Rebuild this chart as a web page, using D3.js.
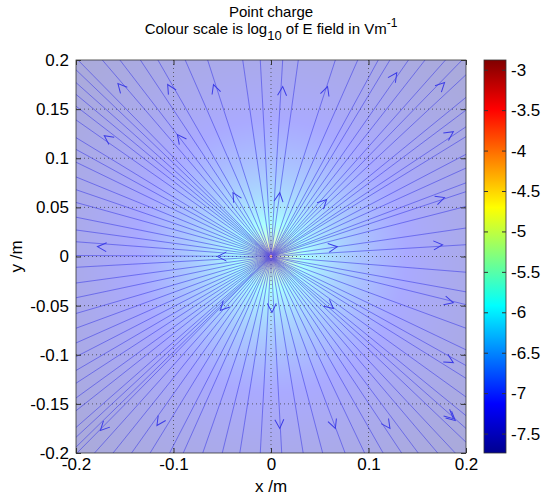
<!DOCTYPE html>
<html>
<head>
<meta charset="utf-8">
<script src="https://cdn.jsdelivr.net/npm/d3@7"></script>
<style>
  body { margin: 0; background: #fff; }
  text { font-family: "Liberation Sans", Arial, sans-serif; }
</style>
</head>
<body>
<div id="chart"></div>
<script>
// point charge (elementary charge) and field constant
const chargeQ = 1.602e-19
const coulombK = 8.99e9

// colour axis limits (log10 of E)
const cLimits = [-7.74, -2.88]

// tick values
const xTicks = [-0.2, -0.1, 0, 0.1, 0.2]
const yTicks = [-0.2, -0.15, -0.1, -0.05, 0, 0.05, 0.1, 0.15, 0.2]
const cTicks = [-3, -3.5, -4, -4.5, -5, -5.5, -6, -6.5, -7, -7.5]

// where the field lines leave the box
const topX = [-0.198, -0.173, -0.155, -0.134, -0.116, -0.088, -0.065, -0.029, -0.011, 0.012, 0.028, 0.066, 0.089, 0.110, 0.122, 0.141, 0.158, 0.179, 0.196]
const bottomX = [-0.199, -0.181, -0.162, -0.143, -0.124, -0.104, -0.090, -0.070, -0.050, -0.032, -0.011, 0.011, 0.033, 0.053, 0.076, 0.096, 0.115, 0.134, 0.151, 0.171, 0.189]
const leftY = [0.19, 0.177, 0.165, 0.153, 0.139, 0.121, 0.109, 0.096, 0.081, 0.068, 0.055, 0.040, 0.027, 0.015, 0.001, -0.011, -0.027, -0.042, -0.058, -0.073, -0.088, -0.102, -0.116, -0.129, -0.144, -0.157, -0.174, -0.184, -0.194]
const rightY = [0.185, 0.162, 0.149, 0.132, 0.122, 0.104, 0.090, 0.075, 0.066, 0.051, 0.029, 0.012, -0.016, -0.036, -0.049, -0.073, -0.095, -0.111, -0.124, -0.143, -0.162, -0.175, -0.189]

// arrow heads on the field lines
const arrowX = [-0.157, -0.106, -0.059, 0.012, 0.058, 0.129, 0.178, -0.171, -0.096, 0.187, -0.039, 0.009, 0.057, -0.178, -0.055, 0.068, 0.178, 0.176, 0.187, -0.052, 0.001, 0.064, 0.187, 0.187, -0.175, -0.117, 0.009, 0.066, 0.122, 0.189]
const arrowY = [0.176, 0.175, 0.175, 0.173, 0.173, 0.187, 0.177, 0.123, 0.124, 0.127, 0.065, 0.065, 0.058, 0.010, 0.000, 0.010, 0.060, 0.012, -0.047, -0.055, -0.057, -0.053, -0.108, -0.165, -0.177, -0.172, -0.175, -0.175, -0.175, -0.167]

let margin = { top: 60, left: 76 }
let width = 390
let height = 393
const fontFam = "'Liberation Sans', Arial, sans-serif"

const svg = d3.select("#chart")
    .append("svg")
    .attr("width", 550)
    .attr("height", 495)

const g = svg.append("g")
    .attr("transform", "translate(" + margin.left + "," + margin.top + ")")

let x = d3.scaleLinear().domain([-0.2, 0.2]).range([0, width])
let y = d3.scaleLinear().domain([-0.2, 0.2]).range([height, 0])

// jet colormap
const jet = d3.scaleLinear()
    .domain([0, 0.125, 0.375, 0.625, 0.875, 1])
    .range(["#00008f", "#0000ff", "#00ffff", "#ffff00", "#ff0000", "#800000"])
    .clamp(true)
let c = d3.scaleLinear().domain(cLimits).range([0, 1]).clamp(true)

const logE = (px, py) => {
    let r2 = Math.max(px * px + py * py, 2e-6)
    return Math.log10(coulombK * chargeQ / r2)
}

// field magnitude image
const canvas = document.createElement("canvas")
canvas.width = width
canvas.height = height
const ctx = canvas.getContext("2d")
const img = ctx.createImageData(width, height)
for (let j = 0; j < height; j++) {
    for (let i = 0; i < width; i++) {
        let col = d3.rgb(jet(c(logE(x.invert(i + 0.5), y.invert(j + 0.5)))))
        let k = (j * width + i) * 4
        img.data[k] = col.r
        img.data[k + 1] = col.g
        img.data[k + 2] = col.b
        img.data[k + 3] = 255
    }
}
ctx.putImageData(img, 0, 0)

g.append("image")
    .attr("width", width)
    .attr("height", height)
    .attr("preserveAspectRatio", "none")
    .attr("opacity", 0.33)
    .attr("href", canvas.toDataURL())

// grid
g.selectAll(".gx").data(xTicks.slice(1, -1)).enter().append("line")
    .attr("x1", d => x(d)).attr("x2", d => x(d))
    .attr("y1", 0).attr("y2", height)
    .attr("stroke", "#444").attr("stroke-width", 0.8).attr("stroke-dasharray", "1,3")
g.selectAll(".gy").data(yTicks.slice(1, -1)).enter().append("line")
    .attr("y1", d => y(d)).attr("y2", d => y(d))
    .attr("x1", 0).attr("x2", width)
    .attr("stroke", "#444").attr("stroke-width", 0.8).attr("stroke-dasharray", "1,3")

// field lines
const ends = [].concat(
    topX.map(v => [v, 0.2]),
    bottomX.map(v => [v, -0.2]),
    leftY.map(v => [-0.2, v]),
    rightY.map(v => [0.2, v])
)
const lineCol = "#3c3ce6"
g.append("g").attr("opacity", 0.8).selectAll("line").data(ends).enter().append("line")
    .attr("x1", d => x(0.002 * d[0] / Math.hypot(d[0], d[1])))
    .attr("y1", d => y(0.002 * d[1] / Math.hypot(d[0], d[1])))
    .attr("x2", d => x(d[0])).attr("y2", d => y(d[1]))
    .attr("stroke", lineCol).attr("stroke-width", 0.7)

// arrows, pointing away from the charge
const arrows = arrowX.map((v, i) => [v, arrowY[i]])
g.append("g").selectAll("path").data(arrows).enter().append("path")
    .attr("transform", d => {
        let ang = Math.atan2(y(d[1]) - y(0), x(d[0]) - x(0)) * 180 / Math.PI
        return "translate(" + x(d[0]) + "," + y(d[1]) + ") rotate(" + ang + ")"
    })
    .attr("d", "M-9,-4.5L0,0L-9,4.5")
    .attr("fill", "none")
    .attr("stroke", lineCol)
    .attr("stroke-width", 1)

// box
g.append("rect")
    .attr("width", width).attr("height", height)
    .attr("fill", "none").attr("stroke", "#333").attr("stroke-width", 0.8)

// axes
const fmt = d => d3.format("")(d).replace("−", "-")
const xAxis = g.append("g")
    .attr("transform", "translate(0," + height + ")")
    .call(d3.axisBottom(x).tickValues(xTicks).tickSize(-5).tickPadding(5).tickFormat(fmt))
const yAxis = g.append("g")
    .call(d3.axisLeft(y).tickValues(yTicks).tickSize(-5).tickPadding(7).tickFormat(fmt))
;[xAxis, yAxis].forEach(a => {
    a.select(".domain").remove()
    a.selectAll("line").attr("stroke", "#333")
    a.selectAll("text").attr("font-size", 17).attr("fill", "#000").style("font-family", fontFam)
})
g.append("g").attr("transform", "translate(" + width + ",0)")
    .call(d3.axisRight(y).tickValues(yTicks).tickSize(-5).tickFormat(""))
    .call(a => { a.select(".domain").remove(); a.selectAll("line").attr("stroke", "#333") })
g.append("g")
    .call(d3.axisTop(x).tickValues(xTicks).tickSize(-5).tickFormat(""))
    .call(a => { a.select(".domain").remove(); a.selectAll("line").attr("stroke", "#333") })

// labels
svg.append("text").attr("x", margin.left + width / 2).attr("y", 492)
    .attr("text-anchor", "middle").attr("font-size", 17).text("x /m")
svg.append("text")
    .attr("transform", "translate(22," + (margin.top + height / 2) + ") rotate(-90)")
    .attr("text-anchor", "middle").attr("font-size", 17).text("y /m")

const title = svg.append("text").attr("text-anchor", "middle").attr("font-size", 15)
title.append("tspan").attr("x", margin.left + width / 2).attr("y", 17).text("Point charge")
const t2 = svg.append("text").attr("text-anchor", "middle").attr("font-size", 15)
    .attr("x", margin.left + width / 2).attr("y", 34)
t2.append("tspan").text("Colour scale is log")
t2.append("tspan").attr("dy", 6).attr("font-size", 13).text("10")
t2.append("tspan").attr("dy", -6).text(" of E field in Vm")
t2.append("tspan").attr("dy", -7).attr("font-size", 12).text("-1")

// colour bar
const cb = svg.append("g").attr("transform", "translate(484," + margin.top + ")")
const cbW = 22
let cy = d3.scaleLinear().domain(cLimits).range([height, 0])
const grad = svg.append("defs").append("linearGradient")
    .attr("id", "jetgrad").attr("x1", 0).attr("y1", 1).attr("x2", 0).attr("y2", 0)
grad.selectAll("stop").data(d3.range(0, 1.0001, 0.025)).enter().append("stop")
    .attr("offset", d => d).attr("stop-color", d => jet(d))
cb.append("rect").attr("width", cbW).attr("height", height).attr("fill", "url(#jetgrad)")
cb.append("g").call(d3.axisLeft(cy).tickValues(cTicks).tickSize(-4).tickFormat(""))
    .call(a => { a.select(".domain").remove(); a.selectAll("line").attr("stroke", "#333") })
cb.append("g").attr("transform", "translate(" + cbW + ",0)")
    .call(d3.axisRight(cy).tickValues(cTicks).tickSize(-4).tickPadding(5).tickFormat(fmt))
    .call(a => {
        a.select(".domain").remove()
        a.selectAll("line").attr("stroke", "#333")
        a.selectAll("text").attr("font-size", 17).attr("fill", "#000").style("font-family", fontFam)
    })
cb.append("rect").attr("width", cbW).attr("height", height)
    .attr("fill", "none").attr("stroke", "#333").attr("stroke-width", 0.8)
</script>
</body>
</html>
